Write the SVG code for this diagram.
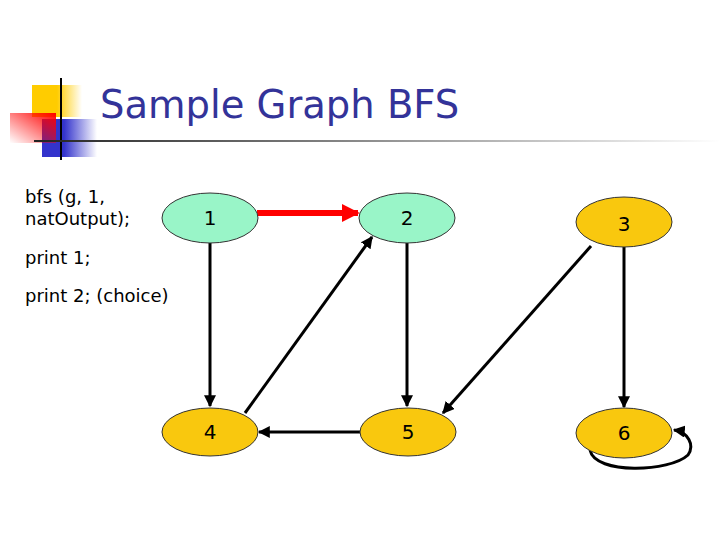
<svg xmlns="http://www.w3.org/2000/svg" width="720" height="540" viewBox="0 0 720 540">
<defs>
<linearGradient id="gy" x1="0" y1="0" x2="1" y2="0"><stop offset="0.5" stop-color="#ffcc00"/><stop offset="1" stop-color="#ffcc00" stop-opacity="0"/></linearGradient>
<linearGradient id="gr" x1="1" y1="0" x2="0" y2="1"><stop offset="0" stop-color="#ff0000"/><stop offset="1" stop-color="#ff0000" stop-opacity="0"/></linearGradient>
<linearGradient id="gb" x1="0" y1="0" x2="1" y2="0"><stop offset="0.4" stop-color="#3333cc"/><stop offset="1" stop-color="#3333cc" stop-opacity="0"/></linearGradient>
<linearGradient id="gl" x1="0" y1="0" x2="1" y2="0"><stop offset="0" stop-color="#222"/><stop offset="1" stop-color="#fff"/></linearGradient>
<marker id="ab" viewBox="0 0 10 10" refX="9" refY="5" markerWidth="4" markerHeight="4" orient="auto-start-reverse"><path d="M0,0 L10,5 L0,10 z" fill="#000"/></marker>
<marker id="ar" viewBox="0 0 10 10" refX="9" refY="5" markerWidth="3" markerHeight="3" orient="auto"><path d="M0,0 L10,5 L0,10 z" fill="#ff0000"/></marker>
</defs>
<style>
.t{font-family:"DejaVu Sans","Liberation Sans",sans-serif;fill:#000}
.g{fill:#99f5c8;stroke:#333;stroke-width:1}
.y{fill:#f9c80e;stroke:#333;stroke-width:1}
.lbl{font-family:"DejaVu Sans","Liberation Sans",sans-serif;font-size:20px;text-anchor:middle;fill:#000}
.e{stroke:#000;stroke-width:3;fill:none;marker-end:url(#ab)}
</style>
<g id="deco">
<rect x="32" y="85" width="50" height="32" fill="url(#gy)"/>
<rect x="42" y="119" width="55" height="38" fill="url(#gb)"/>
<rect x="10" y="113" width="46" height="30" fill="url(#gr)"/>
<line x1="61" y1="78" x2="61" y2="160" stroke="#000" stroke-width="2"/>
<rect x="34" y="140" width="686" height="2" fill="url(#gl)"/>
</g>
<text x="100" y="118" style="font-family:'DejaVu Sans','Liberation Sans',sans-serif;font-size:38.5px;fill:#333399">Sample Graph BFS</text>
<g id="side" class="t" style="font-size:18px">
<text x="25" y="203">bfs (g, 1,</text>
<text x="25" y="225">natOutput);</text>
<text x="25" y="264">print 1;</text>
<text x="25" y="302">print 2; (choice)</text>
</g>
<g id="connectors">
<line x1="257" y1="213" x2="358" y2="213" stroke="#ff0000" stroke-width="6" marker-end="url(#ar)"/>
<line class="e" x1="210" y1="243" x2="210" y2="406"/>
<line class="e" x1="245" y1="413" x2="372" y2="237"/>
<line class="e" x1="407" y1="243" x2="407" y2="406"/>
<line class="e" x1="591" y1="246" x2="443" y2="413"/>
<line class="e" x1="624" y1="247" x2="624" y2="407"/>
<line class="e" x1="360" y1="432" x2="259" y2="432"/>
<path class="e" d="M590,450 C595,475 670,472 688,455 C695,445 688,432 674,430"/>
</g>
<g id="n1"><ellipse class="g" cx="210" cy="218" rx="48" ry="25"/><text class="lbl" x="210" y="225">1</text></g>
<g id="n2"><ellipse class="g" cx="407" cy="218" rx="48" ry="25"/><text class="lbl" x="407" y="225">2</text></g>
<g id="n3"><ellipse class="y" cx="624" cy="222" rx="48" ry="25"/><text class="lbl" x="624" y="231">3</text></g>
<g id="n4"><ellipse class="y" cx="210" cy="432" rx="48" ry="24"/><text class="lbl" x="210" y="439">4</text></g>
<g id="n5"><ellipse class="y" cx="408" cy="432" rx="48" ry="24"/><text class="lbl" x="408" y="439">5</text></g>
<g id="n6"><ellipse class="y" cx="624" cy="433" rx="48" ry="25"/><text class="lbl" x="624" y="440">6</text></g>
</svg>
